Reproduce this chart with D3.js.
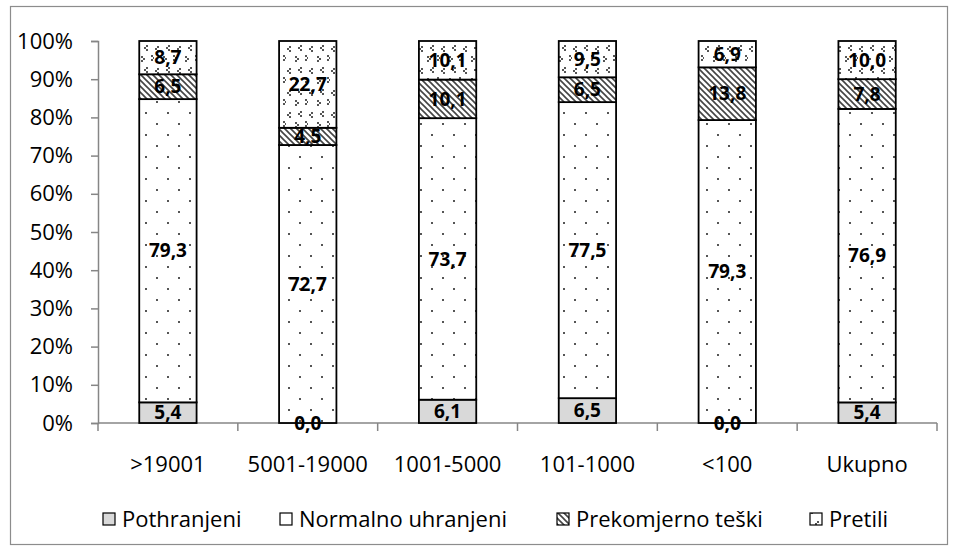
<!DOCTYPE html>
<html><head><meta charset="utf-8">
<script src="https://cdn.jsdelivr.net/npm/d3@7"></script>
<style>body{margin:0;background:#fff}svg{display:block}</style>
</head><body>
<script>
const categories = [">19001", "5001-19000", "1001-5000", "101-1000", "<100", "Ukupno"];
const seriesNames = ["Pothranjeni", "Normalno uhranjeni", "Prekomjerno teški", "Pretili"];
const pothranjeni = [5.4, 0.0, 6.1, 6.5, 0.0, 5.4];
const normalno = [79.3, 72.7, 73.7, 77.5, 79.3, 76.9];
const prekomjerno = [6.5, 4.5, 10.1, 6.5, 13.8, 7.8];
const pretili = [8.7, 22.7, 10.1, 9.5, 6.9, 10.0];
const yTicks = [0, 0.1, 0.2, 0.3, 0.4, 0.5, 0.6, 0.7, 0.8, 0.9, 1.0];

const W = 958, H = 551;
const m = {left: 98, right: 21, top: 41, bottom: 128};
const font = "'Open Sans', sans-serif";

const svg = d3.select("body").append("svg").attr("width", W).attr("height", H);
const defs = svg.append("defs");

// Patterns
const pDots = defs.append("pattern").attr("id", "pNorm").attr("patternUnits", "userSpaceOnUse")
  .attr("width", 22).attr("height", 22).attr("x", 140).attr("y", 41);
pDots.append("rect").attr("width", 22).attr("height", 22).attr("fill", "#fff");
[[5, 5], [16, 16]].forEach(([x, y]) => pDots.append("rect").attr("x", x).attr("y", y).attr("width", 2).attr("height", 2).attr("fill", "#555"));

const pHatch = defs.append("pattern").attr("id", "pHatch").attr("patternUnits", "userSpaceOnUse")
  .attr("width", 6).attr("height", 6);
pHatch.append("rect").attr("width", 6).attr("height", 6).attr("fill", "#fff");
pHatch.append("path").attr("d", "M-1,-1 L7,7 M-4,2 L4,10 M2,-4 L10,4").attr("stroke", "#444").attr("stroke-width", 1.6);

const pConf = defs.append("pattern").attr("id", "pConf").attr("patternUnits", "userSpaceOnUse")
  .attr("width", 22).attr("height", 22);
pConf.append("rect").attr("width", 22).attr("height", 22).attr("fill", "#fff");
[[3,2],[1,4],[3,6],[14,1],[12,3],[14,5],[9,12],[11,14],[9,16],[19,11],[21,13],[19,15]].forEach(([x, y]) =>
  pConf.append("rect").attr("x", x).attr("y", y).attr("width", 2).attr("height", 2).attr("fill", "#555"));

const fills = ["#d9d9d9", "url(#pNorm)", "url(#pHatch)", "url(#pConf)"];

// Border
svg.append("rect").attr("x", 10.5).attr("y", 6.5).attr("width", W - 21).attr("height", H - 13)
  .attr("fill", "none").attr("stroke", "#8c8c8c").attr("stroke-width", 1.2);

const x = d3.scaleBand().domain(categories).range([m.left, W - m.right]).paddingInner(0.59).paddingOuter(0.295);
const y = d3.scaleLinear().domain([0, 1]).range([H - m.bottom, m.top]);

const rows = categories.map((c, i) => {
  const vals = [pothranjeni[i], normalno[i], prekomjerno[i], pretili[i]];
  const tot = d3.sum(vals);
  const o = {cat: c};
  seriesNames.forEach((s, j) => { o[s] = vals[j] / tot; o[s + "_raw"] = vals[j]; });
  return o;
});
const stack = d3.stack().keys(seriesNames)(rows);

// Axes
const yAxis = d3.axisLeft(y).tickValues(yTicks).tickFormat(d3.format(".0%")).tickSizeOuter(0).tickSize(7).tickPadding(18);
const gy = svg.append("g").attr("transform", `translate(${m.left},0)`).call(yAxis);
gy.select(".domain").attr("stroke", "#868686").attr("stroke-width", 1.5);
gy.selectAll(".tick line").attr("stroke", "#868686").attr("stroke-width", 1.5);
gy.selectAll("text").attr("font-family", font).attr("font-size", 22).attr("fill", "#000");

const bandStep = x.step();
const gx = svg.append("g").attr("transform", `translate(0,${y(0)})`);
gx.append("line").attr("x1", m.left).attr("x2", W - m.right).attr("stroke", "#868686").attr("stroke-width", 1.5);
d3.range(categories.length + 1).forEach(i => {
  const xx = m.left + i * bandStep;
  gx.append("line").attr("x1", xx).attr("x2", xx).attr("y1", 0).attr("y2", 8).attr("stroke", "#868686").attr("stroke-width", 1.5);
});
gx.selectAll("text.cat").data(categories).enter().append("text")
  .attr("x", d => x(d) + x.bandwidth() / 2).attr("y", 41).attr("dy", "0.35em")
  .attr("text-anchor", "middle").attr("font-family", font).attr("font-size", 22).attr("fill", "#000").text(d => d);

// Bars
stack.forEach((layer, j) => {
  svg.append("g").selectAll("rect").data(layer).enter().append("rect")
    .attr("x", d => x(d.data.cat)).attr("width", x.bandwidth())
    .attr("y", d => y(d[1])).attr("height", d => Math.max(0, y(d[0]) - y(d[1])))
    .attr("fill", fills[j]).attr("stroke", "#000").attr("stroke-width", 1.8);
});

// Labels
stack.forEach((layer, j) => {
  svg.append("g").selectAll("text").data(layer).enter().append("text")
    .attr("x", d => x(d.data.cat) + x.bandwidth() / 2)
    .attr("y", d => (y(d[0]) + y(d[1])) / 2)
    .attr("dy", "0.35em").attr("text-anchor", "middle")
    .attr("font-family", font).attr("font-size", 19).attr("font-weight", "bold").attr("fill", "#000")
    .text(d => d3.format(".1f")(d.data[seriesNames[j] + "_raw"]).replace(".", ","));
});

// Legend
const legX = [103, 280, 557, 810];
const lg = svg.append("g").attr("transform", "translate(0,519)");
seriesNames.forEach((s, j) => {
  lg.append("rect").attr("x", legX[j]).attr("y", -6).attr("width", 12).attr("height", 12)
    .attr("fill", fills[j]).attr("stroke", "#000").attr("stroke-width", 1.2);
  lg.append("text").attr("x", legX[j] + 19).attr("y", 0).attr("dy", "0.35em")
    .attr("font-family", font).attr("font-size", 22).attr("fill", "#000").text(s);
});
</script>
</body></html>
